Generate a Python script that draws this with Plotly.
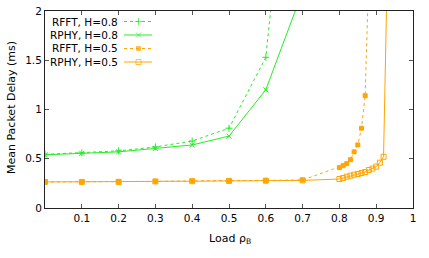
import plotly.graph_objects as go

# ---- data ----
x_h08 = [0.0, 0.1, 0.2, 0.3, 0.4, 0.5, 0.6, 0.7]
rfft_h08 = [0.545, 0.56, 0.58, 0.62, 0.68, 0.81, 1.53, 5.1]
rphy_h08 = [0.54, 0.555, 0.57, 0.605, 0.64, 0.73, 1.2, 2.2]

x_rfft_h05 = [0.0, 0.1, 0.2, 0.3, 0.4, 0.5, 0.6, 0.7,
              0.80, 0.81, 0.82, 0.83, 0.84, 0.85, 0.86, 0.87, 0.88]
rfft_h05 = [0.265, 0.265, 0.27, 0.27, 0.275, 0.275, 0.28, 0.285,
            0.41, 0.43, 0.45, 0.49, 0.57, 0.64, 0.81, 1.14, 2.4]

x_rphy_h05 = [0.0, 0.1, 0.2, 0.3, 0.4, 0.5, 0.6, 0.7,
              0.80, 0.81, 0.82, 0.83, 0.84, 0.85, 0.86, 0.87, 0.88,
              0.89, 0.90, 0.91, 0.92, 0.93]
rphy_h05 = [0.265, 0.265, 0.265, 0.27, 0.272, 0.275, 0.277, 0.28,
            0.294, 0.305, 0.318, 0.328, 0.338, 0.345, 0.355, 0.365, 0.386,
            0.40, 0.42, 0.46, 0.52, 2.4]

x_ticks = [0.1, 0.2, 0.3, 0.4, 0.5, 0.6, 0.7, 0.8, 0.9, 1]
x_tick_labels = ["0.1", "0.2", "0.3", "0.4", "0.5", "0.6", "0.7", "0.8", "0.9", "1"]
y_ticks = [0, 0.5, 1, 1.5, 2]
y_tick_labels = ["0", "0.5", "1", "1.5", "2"]

labels = ["RFFT, H=0.8", "RPHY, H=0.8", "RFFT, H=0.5", "RPHY, H=0.5"]
x_title = "Load ρ<sub>B</sub>"
y_title = "Mean Packet Delay (ms)"

GREEN = "#22ee22"
ORANGE = "#ffa500"
FONT = "DejaVu Sans"

styles = [
    dict(color=GREEN, dash="3px,3px", symbol="cross-thin", msize=5),
    dict(color=GREEN, dash="solid", symbol="x-thin", msize=5),
    dict(color=ORANGE, dash="3px,3px", symbol="square", msize=4),
    dict(color=ORANGE, dash="solid", symbol="square-open", msize=5),
]
series = [(x_h08, rfft_h08), (x_h08, rphy_h08), (x_rfft_h05, rfft_h05), (x_rphy_h05, rphy_h05)]

fig = go.Figure()
for (xs, ys), st, name in zip(series, styles, labels):
    fig.add_trace(go.Scatter(
        x=xs, y=ys, mode="lines+markers", name=name, showlegend=False,
        line=dict(color=st["color"], width=1, dash=st["dash"]),
        marker=dict(symbol=st["symbol"], size=st["msize"], color=st["color"],
                    line=dict(color=st["color"], width=1)),
        cliponaxis=True,
    ))

# ---- layout geometry (pixels) ----
W, H = 429, 258
L, R, T, B = 45, 16, 11, 50
pw, ph = W - L - R, H - T - B


def px_to_paper_x(px):
    return (px - L) / pw


def px_to_paper_y(py):
    return 1 - (py - T) / ph


# ---- manual gnuplot-style legend (text left, sample right) ----
row_px = [21.5, 35, 48.5, 62]
for i, (st, name) in enumerate(zip(styles, labels)):
    yy = px_to_paper_y(row_px[i])
    fig.add_annotation(xref="paper", yref="paper", x=px_to_paper_x(119.5), y=yy,
                       text=name, showarrow=False, xanchor="right", yanchor="middle",
                       font=dict(family=FONT, size=10.5, color="#000"))
    fig.add_trace(go.Scatter(
        x=[px_to_paper_x(124), px_to_paper_x(138.5), px_to_paper_x(152)],
        y=[yy, yy, yy], xaxis="x2", yaxis="y2", mode="lines+markers", showlegend=False,
        hoverinfo="skip",
        line=dict(color=st["color"], width=1, dash=st["dash"]),
        marker=dict(symbol=st["symbol"], size=[0, st["msize"], 0], color=st["color"],
                    line=dict(color=st["color"], width=1)),
    ))

# axis titles
fig.add_annotation(xref="paper", yref="paper", x=px_to_paper_x(230), y=px_to_paper_y(239),
                   text=x_title, showarrow=False, xanchor="center", yanchor="middle",
                   font=dict(family=FONT, size=11, color="#000"))
fig.add_annotation(xref="paper", yref="paper", x=px_to_paper_x(11), y=px_to_paper_y(108),
                   text=y_title, showarrow=False, xanchor="center", yanchor="middle",
                   textangle=-90, font=dict(family=FONT, size=11, color="#000"))

axis_common = dict(showgrid=False, zeroline=False, showline=True, linecolor="#222",
                   linewidth=1, mirror="ticks", ticks="inside", ticklen=4,
                   tickcolor="#555", automargin=False,
                   tickfont=dict(family=FONT, size=10.5, color="#000"))

fig.update_layout(
    width=W, height=H,
    margin=dict(l=L, r=R, t=T, b=B, autoexpand=False),
    paper_bgcolor="white", plot_bgcolor="white",
    xaxis=dict(range=[0, 1], tickvals=x_ticks, ticktext=x_tick_labels, **axis_common),
    yaxis=dict(range=[0, 2], tickvals=y_ticks, ticktext=y_tick_labels, **axis_common),
    xaxis2=dict(overlaying="x", range=[0, 1], visible=False, fixedrange=True),
    yaxis2=dict(overlaying="y", range=[0, 1], visible=False, fixedrange=True),
    showlegend=False,
)

fig.write_html("out.html", config={"displayModeBar": False},
               post_script="document.body.style.margin='0';document.body.style.overflow='hidden';")
